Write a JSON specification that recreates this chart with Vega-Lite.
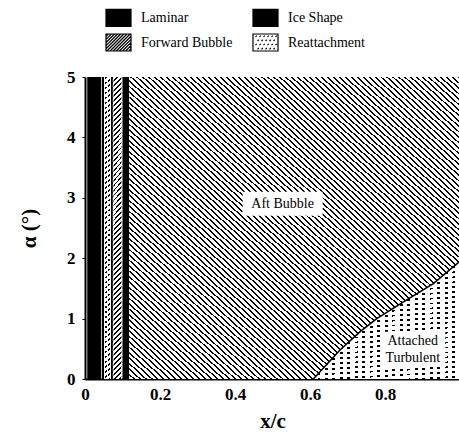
{
  "$schema": "https://vega.github.io/schema/vega-lite/v6.json",
  "width": 375,
  "height": 302,
  "autosize": {"type": "none"},
  "padding": {"left": 85, "top": 77, "right": 0, "bottom": 53},
  "background": "white",
  "datasets": {
    "strips": [
      {"region": "Laminar", "x0": 0.006, "x1": 0.043},
      {"region": "Reattachment", "x0": 0.045, "x1": 0.074},
      {"region": "Forward Bubble", "x0": 0.076, "x1": 0.097},
      {"region": "Ice Shape", "x0": 0.1, "x1": 0.118},
      {"region": "Attached Turbulent", "x0": 0.6, "x1": 1.0}
    ],
    "boundary": [
      {"x": 0.118, "y": 0},
      {"x": 0.609, "y": 0},
      {"x": 0.68, "y": 0.48},
      {"x": 0.733, "y": 0.78},
      {"x": 0.778, "y": 1.0},
      {"x": 0.858, "y": 1.31},
      {"x": 0.929, "y": 1.58},
      {"x": 1.0, "y": 1.95}
    ],
    "labels": [
      {"label": "Aft Bubble", "x": 0.527, "y": 2.9},
      {"label": "Attached\nTurbulent", "x": 0.874, "y": 0.49}
    ]
  },
  "layer": [
    {
      "data": {"name": "strips"},
      "transform": [{"filter": "datum.region === 'Laminar' || datum.region === 'Ice Shape'"}],
      "mark": {"type": "rect", "color": "#000"},
      "encoding": {
        "x": {
          "field": "x0", "type": "quantitative",
          "scale": {"domain": [0, 1], "nice": false, "zero": false},
          "axis": {
            "title": "x/c",
            "values": [0, 0.2, 0.4, 0.6, 0.8],
            "labelExpr": "datum.value == 0 ? '0' : format(datum.value, '.1f')",
            "ticks": false,
            "labelPadding": 7,
            "titlePadding": 8
          }
        },
        "x2": {"field": "x1"},
        "y": {
          "datum": 0, "type": "quantitative",
          "scale": {"domain": [0, 5], "nice": false},
          "axis": {
            "title": "α (°)",
            "values": [0, 1, 2, 3, 4, 5],
            "format": "d",
            "tickSize": 3,
            "labelPadding": 7,
            "titlePadding": 27
          }
        },
        "y2": {"datum": 5}
      }
    },
    {
      "data": {"name": "strips"},
      "transform": [{"filter": "datum.region === 'Reattachment' || datum.region === 'Forward Bubble' || datum.region === 'Attached Turbulent'"}],
      "mark": {
        "type": "rect",
        "color": {
          "gradient": "linear", "x1": 0, "y1": 0, "x2": 0.028, "y2": 1.03,
          "stops": [
            {"offset": 0, "color": "#fff"}, {"offset": 0.01, "color": "#fff"}, {"offset": 0.01, "color": "#000"}, {"offset": 0.016, "color": "#000"},
            {"offset": 0.016, "color": "#fff"}, {"offset": 0.026, "color": "#fff"}, {"offset": 0.026, "color": "#000"}, {"offset": 0.032, "color": "#000"},
            {"offset": 0.032, "color": "#fff"}, {"offset": 0.042, "color": "#fff"}, {"offset": 0.042, "color": "#000"}, {"offset": 0.048, "color": "#000"},
            {"offset": 0.048, "color": "#fff"}, {"offset": 0.058, "color": "#fff"}, {"offset": 0.058, "color": "#000"}, {"offset": 0.064, "color": "#000"},
            {"offset": 0.064, "color": "#fff"}, {"offset": 0.074, "color": "#fff"}, {"offset": 0.074, "color": "#000"}, {"offset": 0.08, "color": "#000"},
            {"offset": 0.08, "color": "#fff"}, {"offset": 0.09, "color": "#fff"}, {"offset": 0.09, "color": "#000"}, {"offset": 0.096, "color": "#000"},
            {"offset": 0.096, "color": "#fff"}, {"offset": 0.106, "color": "#fff"}, {"offset": 0.106, "color": "#000"}, {"offset": 0.112, "color": "#000"},
            {"offset": 0.112, "color": "#fff"}, {"offset": 0.122, "color": "#fff"}, {"offset": 0.122, "color": "#000"}, {"offset": 0.128, "color": "#000"},
            {"offset": 0.128, "color": "#fff"}, {"offset": 0.138, "color": "#fff"}, {"offset": 0.138, "color": "#000"}, {"offset": 0.144, "color": "#000"},
            {"offset": 0.144, "color": "#fff"}, {"offset": 0.154, "color": "#fff"}, {"offset": 0.154, "color": "#000"}, {"offset": 0.16, "color": "#000"},
            {"offset": 0.16, "color": "#fff"}, {"offset": 0.17, "color": "#fff"}, {"offset": 0.17, "color": "#000"}, {"offset": 0.176, "color": "#000"},
            {"offset": 0.176, "color": "#fff"}, {"offset": 0.186, "color": "#fff"}, {"offset": 0.186, "color": "#000"}, {"offset": 0.192, "color": "#000"},
            {"offset": 0.192, "color": "#fff"}, {"offset": 0.202, "color": "#fff"}, {"offset": 0.202, "color": "#000"}, {"offset": 0.208, "color": "#000"},
            {"offset": 0.208, "color": "#fff"}, {"offset": 0.218, "color": "#fff"}, {"offset": 0.218, "color": "#000"}, {"offset": 0.224, "color": "#000"},
            {"offset": 0.224, "color": "#fff"}, {"offset": 0.234, "color": "#fff"}, {"offset": 0.234, "color": "#000"}, {"offset": 0.24, "color": "#000"},
            {"offset": 0.24, "color": "#fff"}, {"offset": 0.25, "color": "#fff"}, {"offset": 0.25, "color": "#000"}, {"offset": 0.256, "color": "#000"},
            {"offset": 0.256, "color": "#fff"}, {"offset": 0.266, "color": "#fff"}, {"offset": 0.266, "color": "#000"}, {"offset": 0.272, "color": "#000"},
            {"offset": 0.272, "color": "#fff"}, {"offset": 0.282, "color": "#fff"}, {"offset": 0.282, "color": "#000"}, {"offset": 0.288, "color": "#000"},
            {"offset": 0.288, "color": "#fff"}, {"offset": 0.298, "color": "#fff"}, {"offset": 0.298, "color": "#000"}, {"offset": 0.304, "color": "#000"},
            {"offset": 0.304, "color": "#fff"}, {"offset": 0.314, "color": "#fff"}, {"offset": 0.314, "color": "#000"}, {"offset": 0.32, "color": "#000"},
            {"offset": 0.32, "color": "#fff"}, {"offset": 0.33, "color": "#fff"}, {"offset": 0.33, "color": "#000"}, {"offset": 0.336, "color": "#000"},
            {"offset": 0.336, "color": "#fff"}, {"offset": 0.346, "color": "#fff"}, {"offset": 0.346, "color": "#000"}, {"offset": 0.352, "color": "#000"},
            {"offset": 0.352, "color": "#fff"}, {"offset": 0.362, "color": "#fff"}, {"offset": 0.362, "color": "#000"}, {"offset": 0.368, "color": "#000"},
            {"offset": 0.368, "color": "#fff"}, {"offset": 0.378, "color": "#fff"}, {"offset": 0.378, "color": "#000"}, {"offset": 0.384, "color": "#000"},
            {"offset": 0.384, "color": "#fff"}, {"offset": 0.394, "color": "#fff"}, {"offset": 0.394, "color": "#000"}, {"offset": 0.4, "color": "#000"},
            {"offset": 0.4, "color": "#fff"}, {"offset": 0.41, "color": "#fff"}, {"offset": 0.41, "color": "#000"}, {"offset": 0.416, "color": "#000"},
            {"offset": 0.416, "color": "#fff"}, {"offset": 0.426, "color": "#fff"}, {"offset": 0.426, "color": "#000"}, {"offset": 0.432, "color": "#000"},
            {"offset": 0.432, "color": "#fff"}, {"offset": 0.442, "color": "#fff"}, {"offset": 0.442, "color": "#000"}, {"offset": 0.448, "color": "#000"},
            {"offset": 0.448, "color": "#fff"}, {"offset": 0.458, "color": "#fff"}, {"offset": 0.458, "color": "#000"}, {"offset": 0.464, "color": "#000"},
            {"offset": 0.464, "color": "#fff"}, {"offset": 0.474, "color": "#fff"}, {"offset": 0.474, "color": "#000"}, {"offset": 0.48, "color": "#000"},
            {"offset": 0.48, "color": "#fff"}, {"offset": 0.49, "color": "#fff"}, {"offset": 0.49, "color": "#000"}, {"offset": 0.496, "color": "#000"},
            {"offset": 0.496, "color": "#fff"}, {"offset": 0.506, "color": "#fff"}, {"offset": 0.506, "color": "#000"}, {"offset": 0.512, "color": "#000"},
            {"offset": 0.512, "color": "#fff"}, {"offset": 0.522, "color": "#fff"}, {"offset": 0.522, "color": "#000"}, {"offset": 0.528, "color": "#000"},
            {"offset": 0.528, "color": "#fff"}, {"offset": 0.538, "color": "#fff"}, {"offset": 0.538, "color": "#000"}, {"offset": 0.544, "color": "#000"},
            {"offset": 0.544, "color": "#fff"}, {"offset": 0.554, "color": "#fff"}, {"offset": 0.554, "color": "#000"}, {"offset": 0.56, "color": "#000"},
            {"offset": 0.56, "color": "#fff"}, {"offset": 0.57, "color": "#fff"}, {"offset": 0.57, "color": "#000"}, {"offset": 0.576, "color": "#000"},
            {"offset": 0.576, "color": "#fff"}, {"offset": 0.586, "color": "#fff"}, {"offset": 0.586, "color": "#000"}, {"offset": 0.592, "color": "#000"},
            {"offset": 0.592, "color": "#fff"}, {"offset": 0.602, "color": "#fff"}, {"offset": 0.602, "color": "#000"}, {"offset": 0.608, "color": "#000"},
            {"offset": 0.608, "color": "#fff"}, {"offset": 0.618, "color": "#fff"}, {"offset": 0.618, "color": "#000"}, {"offset": 0.624, "color": "#000"},
            {"offset": 0.624, "color": "#fff"}, {"offset": 0.634, "color": "#fff"}, {"offset": 0.634, "color": "#000"}, {"offset": 0.64, "color": "#000"},
            {"offset": 0.64, "color": "#fff"}, {"offset": 0.65, "color": "#fff"}, {"offset": 0.65, "color": "#000"}, {"offset": 0.656, "color": "#000"},
            {"offset": 0.656, "color": "#fff"}, {"offset": 0.666, "color": "#fff"}, {"offset": 0.666, "color": "#000"}, {"offset": 0.672, "color": "#000"},
            {"offset": 0.672, "color": "#fff"}, {"offset": 0.682, "color": "#fff"}, {"offset": 0.682, "color": "#000"}, {"offset": 0.688, "color": "#000"},
            {"offset": 0.688, "color": "#fff"}, {"offset": 0.698, "color": "#fff"}, {"offset": 0.698, "color": "#000"}, {"offset": 0.704, "color": "#000"},
            {"offset": 0.704, "color": "#fff"}, {"offset": 0.714, "color": "#fff"}, {"offset": 0.714, "color": "#000"}, {"offset": 0.72, "color": "#000"},
            {"offset": 0.72, "color": "#fff"}, {"offset": 0.73, "color": "#fff"}, {"offset": 0.73, "color": "#000"}, {"offset": 0.736, "color": "#000"},
            {"offset": 0.736, "color": "#fff"}, {"offset": 0.746, "color": "#fff"}, {"offset": 0.746, "color": "#000"}, {"offset": 0.752, "color": "#000"},
            {"offset": 0.752, "color": "#fff"}, {"offset": 0.762, "color": "#fff"}, {"offset": 0.762, "color": "#000"}, {"offset": 0.768, "color": "#000"},
            {"offset": 0.768, "color": "#fff"}, {"offset": 0.778, "color": "#fff"}, {"offset": 0.778, "color": "#000"}, {"offset": 0.784, "color": "#000"},
            {"offset": 0.784, "color": "#fff"}, {"offset": 0.794, "color": "#fff"}, {"offset": 0.794, "color": "#000"}, {"offset": 0.8, "color": "#000"},
            {"offset": 0.8, "color": "#fff"}, {"offset": 0.81, "color": "#fff"}, {"offset": 0.81, "color": "#000"}, {"offset": 0.816, "color": "#000"},
            {"offset": 0.816, "color": "#fff"}, {"offset": 0.826, "color": "#fff"}, {"offset": 0.826, "color": "#000"}, {"offset": 0.832, "color": "#000"},
            {"offset": 0.832, "color": "#fff"}, {"offset": 0.842, "color": "#fff"}, {"offset": 0.842, "color": "#000"}, {"offset": 0.848, "color": "#000"},
            {"offset": 0.848, "color": "#fff"}, {"offset": 0.858, "color": "#fff"}, {"offset": 0.858, "color": "#000"}, {"offset": 0.864, "color": "#000"},
            {"offset": 0.864, "color": "#fff"}, {"offset": 0.874, "color": "#fff"}, {"offset": 0.874, "color": "#000"}, {"offset": 0.88, "color": "#000"},
            {"offset": 0.88, "color": "#fff"}, {"offset": 0.89, "color": "#fff"}, {"offset": 0.89, "color": "#000"}, {"offset": 0.896, "color": "#000"},
            {"offset": 0.896, "color": "#fff"}, {"offset": 0.906, "color": "#fff"}, {"offset": 0.906, "color": "#000"}, {"offset": 0.912, "color": "#000"},
            {"offset": 0.912, "color": "#fff"}, {"offset": 0.922, "color": "#fff"}, {"offset": 0.922, "color": "#000"}, {"offset": 0.928, "color": "#000"},
            {"offset": 0.928, "color": "#fff"}, {"offset": 0.938, "color": "#fff"}, {"offset": 0.938, "color": "#000"}, {"offset": 0.944, "color": "#000"},
            {"offset": 0.944, "color": "#fff"}, {"offset": 0.954, "color": "#fff"}, {"offset": 0.954, "color": "#000"}, {"offset": 0.96, "color": "#000"},
            {"offset": 0.96, "color": "#fff"}, {"offset": 0.97, "color": "#fff"}, {"offset": 0.97, "color": "#000"}, {"offset": 0.976, "color": "#000"},
            {"offset": 0.976, "color": "#fff"}, {"offset": 0.986, "color": "#fff"}, {"offset": 0.986, "color": "#000"}, {"offset": 0.992, "color": "#000"},
            {"offset": 0.992, "color": "#fff"}, {"offset": 1, "color": "#fff"}
          ]
        }
      },
      "encoding": {
        "x": {"field": "x0", "type": "quantitative"},
        "x2": {"field": "x1"},
        "y": {"datum": 0, "type": "quantitative"},
        "y2": {"datum": 5}
      }
    },
    {
      "data": {"name": "strips"},
      "transform": [{"filter": "datum.region === 'Reattachment'"}],
      "mark": {
        "type": "rect",
        "color": {
          "gradient": "linear", "x1": 0, "y1": 0, "x2": 1, "y2": 0,
          "stops": [
            {"offset": 0, "color": "#000"}, {"offset": 0.15, "color": "#000"},
            {"offset": 0.15, "color": "#fff"}, {"offset": 0.3, "color": "#fff"},
            {"offset": 0.3, "color": "rgba(255,255,255,0)"}, {"offset": 0.45, "color": "rgba(255,255,255,0)"},
            {"offset": 0.45, "color": "#fff"}, {"offset": 0.6, "color": "#fff"},
            {"offset": 0.6, "color": "rgba(255,255,255,0)"}, {"offset": 0.74, "color": "rgba(255,255,255,0)"},
            {"offset": 0.74, "color": "#fff"}, {"offset": 0.85, "color": "#fff"},
            {"offset": 0.85, "color": "#000"}, {"offset": 1, "color": "#000"}
          ]
        }
      },
      "encoding": {
        "x": {"field": "x0", "type": "quantitative"},
        "x2": {"field": "x1"},
        "y": {"datum": 0, "type": "quantitative"},
        "y2": {"datum": 5}
      }
    },
    {
      "data": {"name": "strips"},
      "transform": [{"filter": "datum.region === 'Attached Turbulent'"}],
      "mark": {
        "type": "rect",
        "color": {
          "gradient": "linear", "x1": 0, "y1": 0, "x2": 1, "y2": 0,
          "stops": [
            {"offset": 0, "color": "rgba(255,255,255,0)"}, {"offset": 0.017, "color": "rgba(255,255,255,0)"}, {"offset": 0.017, "color": "#fff"}, {"offset": 0.05, "color": "#fff"},
            {"offset": 0.05, "color": "rgba(255,255,255,0)"}, {"offset": 0.067, "color": "rgba(255,255,255,0)"}, {"offset": 0.067, "color": "#fff"}, {"offset": 0.1, "color": "#fff"},
            {"offset": 0.1, "color": "rgba(255,255,255,0)"}, {"offset": 0.117, "color": "rgba(255,255,255,0)"}, {"offset": 0.117, "color": "#fff"}, {"offset": 0.15, "color": "#fff"},
            {"offset": 0.15, "color": "rgba(255,255,255,0)"}, {"offset": 0.167, "color": "rgba(255,255,255,0)"}, {"offset": 0.167, "color": "#fff"}, {"offset": 0.2, "color": "#fff"},
            {"offset": 0.2, "color": "rgba(255,255,255,0)"}, {"offset": 0.217, "color": "rgba(255,255,255,0)"}, {"offset": 0.217, "color": "#fff"}, {"offset": 0.25, "color": "#fff"},
            {"offset": 0.25, "color": "rgba(255,255,255,0)"}, {"offset": 0.267, "color": "rgba(255,255,255,0)"}, {"offset": 0.267, "color": "#fff"}, {"offset": 0.3, "color": "#fff"},
            {"offset": 0.3, "color": "rgba(255,255,255,0)"}, {"offset": 0.317, "color": "rgba(255,255,255,0)"}, {"offset": 0.317, "color": "#fff"}, {"offset": 0.35, "color": "#fff"},
            {"offset": 0.35, "color": "rgba(255,255,255,0)"}, {"offset": 0.367, "color": "rgba(255,255,255,0)"}, {"offset": 0.367, "color": "#fff"}, {"offset": 0.4, "color": "#fff"},
            {"offset": 0.4, "color": "rgba(255,255,255,0)"}, {"offset": 0.417, "color": "rgba(255,255,255,0)"}, {"offset": 0.417, "color": "#fff"}, {"offset": 0.45, "color": "#fff"},
            {"offset": 0.45, "color": "rgba(255,255,255,0)"}, {"offset": 0.467, "color": "rgba(255,255,255,0)"}, {"offset": 0.467, "color": "#fff"}, {"offset": 0.5, "color": "#fff"},
            {"offset": 0.5, "color": "rgba(255,255,255,0)"}, {"offset": 0.517, "color": "rgba(255,255,255,0)"}, {"offset": 0.517, "color": "#fff"}, {"offset": 0.55, "color": "#fff"},
            {"offset": 0.55, "color": "rgba(255,255,255,0)"}, {"offset": 0.567, "color": "rgba(255,255,255,0)"}, {"offset": 0.567, "color": "#fff"}, {"offset": 0.6, "color": "#fff"},
            {"offset": 0.6, "color": "rgba(255,255,255,0)"}, {"offset": 0.617, "color": "rgba(255,255,255,0)"}, {"offset": 0.617, "color": "#fff"}, {"offset": 0.65, "color": "#fff"},
            {"offset": 0.65, "color": "rgba(255,255,255,0)"}, {"offset": 0.667, "color": "rgba(255,255,255,0)"}, {"offset": 0.667, "color": "#fff"}, {"offset": 0.7, "color": "#fff"},
            {"offset": 0.7, "color": "rgba(255,255,255,0)"}, {"offset": 0.717, "color": "rgba(255,255,255,0)"}, {"offset": 0.717, "color": "#fff"}, {"offset": 0.75, "color": "#fff"},
            {"offset": 0.75, "color": "rgba(255,255,255,0)"}, {"offset": 0.767, "color": "rgba(255,255,255,0)"}, {"offset": 0.767, "color": "#fff"}, {"offset": 0.8, "color": "#fff"},
            {"offset": 0.8, "color": "rgba(255,255,255,0)"}, {"offset": 0.817, "color": "rgba(255,255,255,0)"}, {"offset": 0.817, "color": "#fff"}, {"offset": 0.85, "color": "#fff"},
            {"offset": 0.85, "color": "rgba(255,255,255,0)"}, {"offset": 0.867, "color": "rgba(255,255,255,0)"}, {"offset": 0.867, "color": "#fff"}, {"offset": 0.9, "color": "#fff"},
            {"offset": 0.9, "color": "rgba(255,255,255,0)"}, {"offset": 0.917, "color": "rgba(255,255,255,0)"}, {"offset": 0.917, "color": "#fff"}, {"offset": 0.95, "color": "#fff"},
            {"offset": 0.95, "color": "rgba(255,255,255,0)"}, {"offset": 0.967, "color": "rgba(255,255,255,0)"}, {"offset": 0.967, "color": "#fff"}, {"offset": 1, "color": "#fff"}
          ]
        }
      },
      "encoding": {
        "x": {"field": "x0", "type": "quantitative"},
        "x2": {"field": "x1"},
        "y": {"datum": 0, "type": "quantitative"},
        "y2": {"datum": 5}
      }
    },
    {
      "data": {"name": "boundary"},
      "mark": {
        "type": "area",
        "interpolate": "linear",
        "color": {
          "gradient": "linear", "x1": 0, "y1": 1, "x2": 1, "y2": 0,
          "stops": [
            {"offset": 0, "color": "#fff"}, {"offset": 0.006, "color": "#fff"}, {"offset": 0.006, "color": "#000"}, {"offset": 0.009, "color": "#000"},
            {"offset": 0.009, "color": "#fff"}, {"offset": 0.015, "color": "#fff"}, {"offset": 0.015, "color": "#000"}, {"offset": 0.018, "color": "#000"},
            {"offset": 0.018, "color": "#fff"}, {"offset": 0.024, "color": "#fff"}, {"offset": 0.024, "color": "#000"}, {"offset": 0.027, "color": "#000"},
            {"offset": 0.027, "color": "#fff"}, {"offset": 0.033, "color": "#fff"}, {"offset": 0.033, "color": "#000"}, {"offset": 0.036, "color": "#000"},
            {"offset": 0.036, "color": "#fff"}, {"offset": 0.042, "color": "#fff"}, {"offset": 0.042, "color": "#000"}, {"offset": 0.045, "color": "#000"},
            {"offset": 0.045, "color": "#fff"}, {"offset": 0.051, "color": "#fff"}, {"offset": 0.051, "color": "#000"}, {"offset": 0.054, "color": "#000"},
            {"offset": 0.054, "color": "#fff"}, {"offset": 0.06, "color": "#fff"}, {"offset": 0.06, "color": "#000"}, {"offset": 0.063, "color": "#000"},
            {"offset": 0.063, "color": "#fff"}, {"offset": 0.069, "color": "#fff"}, {"offset": 0.069, "color": "#000"}, {"offset": 0.072, "color": "#000"},
            {"offset": 0.072, "color": "#fff"}, {"offset": 0.078, "color": "#fff"}, {"offset": 0.078, "color": "#000"}, {"offset": 0.081, "color": "#000"},
            {"offset": 0.081, "color": "#fff"}, {"offset": 0.087, "color": "#fff"}, {"offset": 0.087, "color": "#000"}, {"offset": 0.09, "color": "#000"},
            {"offset": 0.09, "color": "#fff"}, {"offset": 0.096, "color": "#fff"}, {"offset": 0.096, "color": "#000"}, {"offset": 0.099, "color": "#000"},
            {"offset": 0.099, "color": "#fff"}, {"offset": 0.105, "color": "#fff"}, {"offset": 0.105, "color": "#000"}, {"offset": 0.108, "color": "#000"},
            {"offset": 0.108, "color": "#fff"}, {"offset": 0.114, "color": "#fff"}, {"offset": 0.114, "color": "#000"}, {"offset": 0.117, "color": "#000"},
            {"offset": 0.117, "color": "#fff"}, {"offset": 0.123, "color": "#fff"}, {"offset": 0.123, "color": "#000"}, {"offset": 0.126, "color": "#000"},
            {"offset": 0.126, "color": "#fff"}, {"offset": 0.132, "color": "#fff"}, {"offset": 0.132, "color": "#000"}, {"offset": 0.135, "color": "#000"},
            {"offset": 0.135, "color": "#fff"}, {"offset": 0.141, "color": "#fff"}, {"offset": 0.141, "color": "#000"}, {"offset": 0.144, "color": "#000"},
            {"offset": 0.144, "color": "#fff"}, {"offset": 0.15, "color": "#fff"}, {"offset": 0.15, "color": "#000"}, {"offset": 0.153, "color": "#000"},
            {"offset": 0.153, "color": "#fff"}, {"offset": 0.159, "color": "#fff"}, {"offset": 0.159, "color": "#000"}, {"offset": 0.162, "color": "#000"},
            {"offset": 0.162, "color": "#fff"}, {"offset": 0.168, "color": "#fff"}, {"offset": 0.168, "color": "#000"}, {"offset": 0.171, "color": "#000"},
            {"offset": 0.171, "color": "#fff"}, {"offset": 0.177, "color": "#fff"}, {"offset": 0.177, "color": "#000"}, {"offset": 0.18, "color": "#000"},
            {"offset": 0.18, "color": "#fff"}, {"offset": 0.186, "color": "#fff"}, {"offset": 0.186, "color": "#000"}, {"offset": 0.189, "color": "#000"},
            {"offset": 0.189, "color": "#fff"}, {"offset": 0.195, "color": "#fff"}, {"offset": 0.195, "color": "#000"}, {"offset": 0.198, "color": "#000"},
            {"offset": 0.198, "color": "#fff"}, {"offset": 0.204, "color": "#fff"}, {"offset": 0.204, "color": "#000"}, {"offset": 0.207, "color": "#000"},
            {"offset": 0.207, "color": "#fff"}, {"offset": 0.213, "color": "#fff"}, {"offset": 0.213, "color": "#000"}, {"offset": 0.216, "color": "#000"},
            {"offset": 0.216, "color": "#fff"}, {"offset": 0.222, "color": "#fff"}, {"offset": 0.222, "color": "#000"}, {"offset": 0.225, "color": "#000"},
            {"offset": 0.225, "color": "#fff"}, {"offset": 0.231, "color": "#fff"}, {"offset": 0.231, "color": "#000"}, {"offset": 0.234, "color": "#000"},
            {"offset": 0.234, "color": "#fff"}, {"offset": 0.24, "color": "#fff"}, {"offset": 0.24, "color": "#000"}, {"offset": 0.243, "color": "#000"},
            {"offset": 0.243, "color": "#fff"}, {"offset": 0.249, "color": "#fff"}, {"offset": 0.249, "color": "#000"}, {"offset": 0.252, "color": "#000"},
            {"offset": 0.252, "color": "#fff"}, {"offset": 0.258, "color": "#fff"}, {"offset": 0.258, "color": "#000"}, {"offset": 0.261, "color": "#000"},
            {"offset": 0.261, "color": "#fff"}, {"offset": 0.267, "color": "#fff"}, {"offset": 0.267, "color": "#000"}, {"offset": 0.27, "color": "#000"},
            {"offset": 0.27, "color": "#fff"}, {"offset": 0.276, "color": "#fff"}, {"offset": 0.276, "color": "#000"}, {"offset": 0.279, "color": "#000"},
            {"offset": 0.279, "color": "#fff"}, {"offset": 0.285, "color": "#fff"}, {"offset": 0.285, "color": "#000"}, {"offset": 0.288, "color": "#000"},
            {"offset": 0.288, "color": "#fff"}, {"offset": 0.294, "color": "#fff"}, {"offset": 0.294, "color": "#000"}, {"offset": 0.297, "color": "#000"},
            {"offset": 0.297, "color": "#fff"}, {"offset": 0.303, "color": "#fff"}, {"offset": 0.303, "color": "#000"}, {"offset": 0.306, "color": "#000"},
            {"offset": 0.306, "color": "#fff"}, {"offset": 0.312, "color": "#fff"}, {"offset": 0.312, "color": "#000"}, {"offset": 0.315, "color": "#000"},
            {"offset": 0.315, "color": "#fff"}, {"offset": 0.321, "color": "#fff"}, {"offset": 0.321, "color": "#000"}, {"offset": 0.324, "color": "#000"},
            {"offset": 0.324, "color": "#fff"}, {"offset": 0.33, "color": "#fff"}, {"offset": 0.33, "color": "#000"}, {"offset": 0.333, "color": "#000"},
            {"offset": 0.333, "color": "#fff"}, {"offset": 0.339, "color": "#fff"}, {"offset": 0.339, "color": "#000"}, {"offset": 0.342, "color": "#000"},
            {"offset": 0.342, "color": "#fff"}, {"offset": 0.348, "color": "#fff"}, {"offset": 0.348, "color": "#000"}, {"offset": 0.351, "color": "#000"},
            {"offset": 0.351, "color": "#fff"}, {"offset": 0.357, "color": "#fff"}, {"offset": 0.357, "color": "#000"}, {"offset": 0.36, "color": "#000"},
            {"offset": 0.36, "color": "#fff"}, {"offset": 0.366, "color": "#fff"}, {"offset": 0.366, "color": "#000"}, {"offset": 0.369, "color": "#000"},
            {"offset": 0.369, "color": "#fff"}, {"offset": 0.375, "color": "#fff"}, {"offset": 0.375, "color": "#000"}, {"offset": 0.378, "color": "#000"},
            {"offset": 0.378, "color": "#fff"}, {"offset": 0.384, "color": "#fff"}, {"offset": 0.384, "color": "#000"}, {"offset": 0.387, "color": "#000"},
            {"offset": 0.387, "color": "#fff"}, {"offset": 0.393, "color": "#fff"}, {"offset": 0.393, "color": "#000"}, {"offset": 0.396, "color": "#000"},
            {"offset": 0.396, "color": "#fff"}, {"offset": 0.402, "color": "#fff"}, {"offset": 0.402, "color": "#000"}, {"offset": 0.405, "color": "#000"},
            {"offset": 0.405, "color": "#fff"}, {"offset": 0.411, "color": "#fff"}, {"offset": 0.411, "color": "#000"}, {"offset": 0.414, "color": "#000"},
            {"offset": 0.414, "color": "#fff"}, {"offset": 0.42, "color": "#fff"}, {"offset": 0.42, "color": "#000"}, {"offset": 0.423, "color": "#000"},
            {"offset": 0.423, "color": "#fff"}, {"offset": 0.429, "color": "#fff"}, {"offset": 0.429, "color": "#000"}, {"offset": 0.432, "color": "#000"},
            {"offset": 0.432, "color": "#fff"}, {"offset": 0.438, "color": "#fff"}, {"offset": 0.438, "color": "#000"}, {"offset": 0.441, "color": "#000"},
            {"offset": 0.441, "color": "#fff"}, {"offset": 0.447, "color": "#fff"}, {"offset": 0.447, "color": "#000"}, {"offset": 0.45, "color": "#000"},
            {"offset": 0.45, "color": "#fff"}, {"offset": 0.456, "color": "#fff"}, {"offset": 0.456, "color": "#000"}, {"offset": 0.459, "color": "#000"},
            {"offset": 0.459, "color": "#fff"}, {"offset": 0.465, "color": "#fff"}, {"offset": 0.465, "color": "#000"}, {"offset": 0.468, "color": "#000"},
            {"offset": 0.468, "color": "#fff"}, {"offset": 0.474, "color": "#fff"}, {"offset": 0.474, "color": "#000"}, {"offset": 0.477, "color": "#000"},
            {"offset": 0.477, "color": "#fff"}, {"offset": 0.483, "color": "#fff"}, {"offset": 0.483, "color": "#000"}, {"offset": 0.486, "color": "#000"},
            {"offset": 0.486, "color": "#fff"}, {"offset": 0.492, "color": "#fff"}, {"offset": 0.492, "color": "#000"}, {"offset": 0.495, "color": "#000"},
            {"offset": 0.495, "color": "#fff"}, {"offset": 0.501, "color": "#fff"}, {"offset": 0.501, "color": "#000"}, {"offset": 0.504, "color": "#000"},
            {"offset": 0.504, "color": "#fff"}, {"offset": 0.51, "color": "#fff"}, {"offset": 0.51, "color": "#000"}, {"offset": 0.513, "color": "#000"},
            {"offset": 0.513, "color": "#fff"}, {"offset": 0.519, "color": "#fff"}, {"offset": 0.519, "color": "#000"}, {"offset": 0.522, "color": "#000"},
            {"offset": 0.522, "color": "#fff"}, {"offset": 0.528, "color": "#fff"}, {"offset": 0.528, "color": "#000"}, {"offset": 0.531, "color": "#000"},
            {"offset": 0.531, "color": "#fff"}, {"offset": 0.537, "color": "#fff"}, {"offset": 0.537, "color": "#000"}, {"offset": 0.54, "color": "#000"},
            {"offset": 0.54, "color": "#fff"}, {"offset": 0.546, "color": "#fff"}, {"offset": 0.546, "color": "#000"}, {"offset": 0.549, "color": "#000"},
            {"offset": 0.549, "color": "#fff"}, {"offset": 0.555, "color": "#fff"}, {"offset": 0.555, "color": "#000"}, {"offset": 0.558, "color": "#000"},
            {"offset": 0.558, "color": "#fff"}, {"offset": 0.564, "color": "#fff"}, {"offset": 0.564, "color": "#000"}, {"offset": 0.567, "color": "#000"},
            {"offset": 0.567, "color": "#fff"}, {"offset": 0.573, "color": "#fff"}, {"offset": 0.573, "color": "#000"}, {"offset": 0.576, "color": "#000"},
            {"offset": 0.576, "color": "#fff"}, {"offset": 0.582, "color": "#fff"}, {"offset": 0.582, "color": "#000"}, {"offset": 0.585, "color": "#000"},
            {"offset": 0.585, "color": "#fff"}, {"offset": 0.591, "color": "#fff"}, {"offset": 0.591, "color": "#000"}, {"offset": 0.594, "color": "#000"},
            {"offset": 0.594, "color": "#fff"}, {"offset": 0.6, "color": "#fff"}, {"offset": 0.6, "color": "#000"}, {"offset": 0.603, "color": "#000"},
            {"offset": 0.603, "color": "#fff"}, {"offset": 0.609, "color": "#fff"}, {"offset": 0.609, "color": "#000"}, {"offset": 0.612, "color": "#000"},
            {"offset": 0.612, "color": "#fff"}, {"offset": 0.618, "color": "#fff"}, {"offset": 0.618, "color": "#000"}, {"offset": 0.621, "color": "#000"},
            {"offset": 0.621, "color": "#fff"}, {"offset": 0.627, "color": "#fff"}, {"offset": 0.627, "color": "#000"}, {"offset": 0.63, "color": "#000"},
            {"offset": 0.63, "color": "#fff"}, {"offset": 0.636, "color": "#fff"}, {"offset": 0.636, "color": "#000"}, {"offset": 0.639, "color": "#000"},
            {"offset": 0.639, "color": "#fff"}, {"offset": 0.645, "color": "#fff"}, {"offset": 0.645, "color": "#000"}, {"offset": 0.648, "color": "#000"},
            {"offset": 0.648, "color": "#fff"}, {"offset": 0.654, "color": "#fff"}, {"offset": 0.654, "color": "#000"}, {"offset": 0.657, "color": "#000"},
            {"offset": 0.657, "color": "#fff"}, {"offset": 0.663, "color": "#fff"}, {"offset": 0.663, "color": "#000"}, {"offset": 0.666, "color": "#000"},
            {"offset": 0.666, "color": "#fff"}, {"offset": 0.672, "color": "#fff"}, {"offset": 0.672, "color": "#000"}, {"offset": 0.675, "color": "#000"},
            {"offset": 0.675, "color": "#fff"}, {"offset": 0.681, "color": "#fff"}, {"offset": 0.681, "color": "#000"}, {"offset": 0.684, "color": "#000"},
            {"offset": 0.684, "color": "#fff"}, {"offset": 0.69, "color": "#fff"}, {"offset": 0.69, "color": "#000"}, {"offset": 0.693, "color": "#000"},
            {"offset": 0.693, "color": "#fff"}, {"offset": 0.699, "color": "#fff"}, {"offset": 0.699, "color": "#000"}, {"offset": 0.702, "color": "#000"},
            {"offset": 0.702, "color": "#fff"}, {"offset": 0.708, "color": "#fff"}, {"offset": 0.708, "color": "#000"}, {"offset": 0.711, "color": "#000"},
            {"offset": 0.711, "color": "#fff"}, {"offset": 0.717, "color": "#fff"}, {"offset": 0.717, "color": "#000"}, {"offset": 0.72, "color": "#000"},
            {"offset": 0.72, "color": "#fff"}, {"offset": 0.726, "color": "#fff"}, {"offset": 0.726, "color": "#000"}, {"offset": 0.729, "color": "#000"},
            {"offset": 0.729, "color": "#fff"}, {"offset": 0.735, "color": "#fff"}, {"offset": 0.735, "color": "#000"}, {"offset": 0.738, "color": "#000"},
            {"offset": 0.738, "color": "#fff"}, {"offset": 0.744, "color": "#fff"}, {"offset": 0.744, "color": "#000"}, {"offset": 0.747, "color": "#000"},
            {"offset": 0.747, "color": "#fff"}, {"offset": 0.753, "color": "#fff"}, {"offset": 0.753, "color": "#000"}, {"offset": 0.756, "color": "#000"},
            {"offset": 0.756, "color": "#fff"}, {"offset": 0.762, "color": "#fff"}, {"offset": 0.762, "color": "#000"}, {"offset": 0.765, "color": "#000"},
            {"offset": 0.765, "color": "#fff"}, {"offset": 0.771, "color": "#fff"}, {"offset": 0.771, "color": "#000"}, {"offset": 0.774, "color": "#000"},
            {"offset": 0.774, "color": "#fff"}, {"offset": 0.78, "color": "#fff"}, {"offset": 0.78, "color": "#000"}, {"offset": 0.783, "color": "#000"},
            {"offset": 0.783, "color": "#fff"}, {"offset": 0.789, "color": "#fff"}, {"offset": 0.789, "color": "#000"}, {"offset": 0.792, "color": "#000"},
            {"offset": 0.792, "color": "#fff"}, {"offset": 0.798, "color": "#fff"}, {"offset": 0.798, "color": "#000"}, {"offset": 0.801, "color": "#000"},
            {"offset": 0.801, "color": "#fff"}, {"offset": 0.807, "color": "#fff"}, {"offset": 0.807, "color": "#000"}, {"offset": 0.81, "color": "#000"},
            {"offset": 0.81, "color": "#fff"}, {"offset": 0.816, "color": "#fff"}, {"offset": 0.816, "color": "#000"}, {"offset": 0.819, "color": "#000"},
            {"offset": 0.819, "color": "#fff"}, {"offset": 0.825, "color": "#fff"}, {"offset": 0.825, "color": "#000"}, {"offset": 0.828, "color": "#000"},
            {"offset": 0.828, "color": "#fff"}, {"offset": 0.834, "color": "#fff"}, {"offset": 0.834, "color": "#000"}, {"offset": 0.837, "color": "#000"},
            {"offset": 0.837, "color": "#fff"}, {"offset": 0.843, "color": "#fff"}, {"offset": 0.843, "color": "#000"}, {"offset": 0.846, "color": "#000"},
            {"offset": 0.846, "color": "#fff"}, {"offset": 0.852, "color": "#fff"}, {"offset": 0.852, "color": "#000"}, {"offset": 0.855, "color": "#000"},
            {"offset": 0.855, "color": "#fff"}, {"offset": 0.861, "color": "#fff"}, {"offset": 0.861, "color": "#000"}, {"offset": 0.864, "color": "#000"},
            {"offset": 0.864, "color": "#fff"}, {"offset": 0.87, "color": "#fff"}, {"offset": 0.87, "color": "#000"}, {"offset": 0.873, "color": "#000"},
            {"offset": 0.873, "color": "#fff"}, {"offset": 0.879, "color": "#fff"}, {"offset": 0.879, "color": "#000"}, {"offset": 0.882, "color": "#000"},
            {"offset": 0.882, "color": "#fff"}, {"offset": 0.888, "color": "#fff"}, {"offset": 0.888, "color": "#000"}, {"offset": 0.891, "color": "#000"},
            {"offset": 0.891, "color": "#fff"}, {"offset": 0.897, "color": "#fff"}, {"offset": 0.897, "color": "#000"}, {"offset": 0.9, "color": "#000"},
            {"offset": 0.9, "color": "#fff"}, {"offset": 0.906, "color": "#fff"}, {"offset": 0.906, "color": "#000"}, {"offset": 0.909, "color": "#000"},
            {"offset": 0.909, "color": "#fff"}, {"offset": 0.915, "color": "#fff"}, {"offset": 0.915, "color": "#000"}, {"offset": 0.918, "color": "#000"},
            {"offset": 0.918, "color": "#fff"}, {"offset": 0.924, "color": "#fff"}, {"offset": 0.924, "color": "#000"}, {"offset": 0.927, "color": "#000"},
            {"offset": 0.927, "color": "#fff"}, {"offset": 0.933, "color": "#fff"}, {"offset": 0.933, "color": "#000"}, {"offset": 0.936, "color": "#000"},
            {"offset": 0.936, "color": "#fff"}, {"offset": 0.942, "color": "#fff"}, {"offset": 0.942, "color": "#000"}, {"offset": 0.945, "color": "#000"},
            {"offset": 0.945, "color": "#fff"}, {"offset": 0.951, "color": "#fff"}, {"offset": 0.951, "color": "#000"}, {"offset": 0.954, "color": "#000"},
            {"offset": 0.954, "color": "#fff"}, {"offset": 0.96, "color": "#fff"}, {"offset": 0.96, "color": "#000"}, {"offset": 0.963, "color": "#000"},
            {"offset": 0.963, "color": "#fff"}, {"offset": 0.969, "color": "#fff"}, {"offset": 0.969, "color": "#000"}, {"offset": 0.972, "color": "#000"},
            {"offset": 0.972, "color": "#fff"}, {"offset": 0.978, "color": "#fff"}, {"offset": 0.978, "color": "#000"}, {"offset": 0.981, "color": "#000"},
            {"offset": 0.981, "color": "#fff"}, {"offset": 0.987, "color": "#fff"}, {"offset": 0.987, "color": "#000"}, {"offset": 0.99, "color": "#000"},
            {"offset": 0.99, "color": "#fff"}, {"offset": 0.996, "color": "#fff"}, {"offset": 0.996, "color": "#000"}, {"offset": 0.999, "color": "#000"},
            {"offset": 0.999, "color": "#fff"}, {"offset": 1, "color": "#fff"}
          ]
        }
      },
      "encoding": {
        "x": {"field": "x", "type": "quantitative"},
        "y": {"field": "y", "type": "quantitative"},
        "y2": {"datum": 5}
      }
    },
    {
      "data": {"name": "boundary"},
      "transform": [{"filter": "datum.x >= 0.6"}],
      "mark": {"type": "line", "color": "#000", "strokeWidth": 1.6},
      "encoding": {
        "x": {"field": "x", "type": "quantitative"},
        "y": {"field": "y", "type": "quantitative"}
      }
    },
    {
      "mark": {"type": "rule", "color": "#000", "strokeWidth": 2},
      "encoding": {"y": {"datum": 5, "type": "quantitative"}}
    },
    {
      "data": {"name": "strips"},
      "transform": [{"filter": "datum.region !== 'Attached Turbulent'"}],
      "mark": {"type": "point", "filled": true, "opacity": 0},
      "encoding": {
        "x": {"field": "x0", "type": "quantitative"},
        "y": {"datum": 0, "type": "quantitative"},
        "fill": {
          "field": "region", "type": "nominal",
          "scale": {
            "domain": ["Laminar", "Forward Bubble", "Ice Shape", "Reattachment"],
            "range": ["#000", "#fff", "#000", "#fff"]
          },
          "legend": {
            "orient": "none", "legendX": 20, "legendY": -73, "columns": 2, "title": null,
            "padding": 0, "rowPadding": 0, "columnPadding": 17,
            "symbolSize": 625, "symbolStrokeWidth": 1.2, "symbolOpacity": 1,
            "labelFont": "Liberation Serif", "labelFontSize": 14, "labelColor": "#000", "labelOffset": 9
          }
        },
        "stroke": {
          "field": "region", "type": "nominal",
          "scale": {
            "domain": ["Laminar", "Forward Bubble", "Ice Shape", "Reattachment"],
            "range": ["#000", "#000", "#000", "#000"]
          },
          "legend": {
            "orient": "none", "legendX": 20, "legendY": -73, "columns": 2, "title": null,
            "padding": 0, "rowPadding": 0, "columnPadding": 17,
            "symbolSize": 625, "symbolStrokeWidth": 1.2, "symbolOpacity": 1,
            "labelFont": "Liberation Serif", "labelFontSize": 14, "labelColor": "#000", "labelOffset": 9
          }
        },
        "shape": {
          "field": "region", "type": "nominal",
          "scale": {
            "domain": ["Laminar", "Forward Bubble", "Ice Shape", "Reattachment"],
            "range": [
              "M-1,-0.68H1V0.68H-1Z",
              "M-1,-0.68H1V0.68H-1Z M-1,-0.5L-0.82,-0.68 M-1,-0.25L-0.57,-0.68 M-1,0L-0.32,-0.68 M-1,0.25L-0.07,-0.68 M-1,0.5L0.18,-0.68 M-0.93,0.68L0.43,-0.68 M-0.68,0.68L0.68,-0.68 M-0.43,0.68L0.93,-0.68 M-0.18,0.68L1,-0.5 M0.07,0.68L1,-0.25 M0.32,0.68L1,0 M0.57,0.68L1,0.25 M0.82,0.68L1,0.5",
              "M-1,-0.68H1V0.68H-1Z",
              "M-1,-0.68H1V0.68H-1Z M-0.8,-0.45l0.1,-0.1 M-0.48,-0.45l0.1,-0.1 M-0.16,-0.45l0.1,-0.1 M0.16,-0.45l0.1,-0.1 M0.48,-0.45l0.1,-0.1 M0.8,-0.45l0.1,-0.1 M-0.64,-0.12l0.1,-0.1 M-0.32,-0.12l0.1,-0.1 M0,-0.12l0.1,-0.1 M0.32,-0.12l0.1,-0.1 M0.64,-0.12l0.1,-0.1 M-0.8,0.21l0.1,-0.1 M-0.48,0.21l0.1,-0.1 M-0.16,0.21l0.1,-0.1 M0.16,0.21l0.1,-0.1 M0.48,0.21l0.1,-0.1 M0.8,0.21l0.1,-0.1 M-0.64,0.54l0.1,-0.1 M-0.32,0.54l0.1,-0.1 M0,0.54l0.1,-0.1 M0.32,0.54l0.1,-0.1 M0.64,0.54l0.1,-0.1"
            ]
          },
          "legend": {
            "orient": "none", "legendX": 20, "legendY": -73, "columns": 2, "title": null,
            "padding": 0, "rowPadding": 0, "columnPadding": 17,
            "symbolSize": 625, "symbolStrokeWidth": 1.2, "symbolOpacity": 1,
            "labelFont": "Liberation Serif", "labelFontSize": 14, "labelColor": "#000", "labelOffset": 9
          }
        }
      }
    },
    {
      "data": {"name": "labels"},
      "transform": [{"filter": "datum.label === 'Aft Bubble'"}],
      "mark": {"type": "point", "shape": "M-1,-0.3H1V0.3H-1Z", "size": 6400, "filled": true, "color": "#fff", "opacity": 1, "strokeWidth": 0},
      "encoding": {
        "x": {"field": "x", "type": "quantitative"},
        "y": {"field": "y", "type": "quantitative"}
      }
    },
    {
      "data": {"name": "labels"},
      "transform": [{"filter": "datum.label !== 'Aft Bubble'"}],
      "mark": {"type": "point", "shape": "M-1,-0.54H1V0.54H-1Z", "size": 4225, "filled": true, "color": "#fff", "opacity": 1, "strokeWidth": 0},
      "encoding": {
        "x": {"field": "x", "type": "quantitative"},
        "y": {"field": "y", "type": "quantitative"}
      }
    },
    {
      "data": {"name": "labels"},
      "transform": [{"filter": "datum.label === 'Aft Bubble'"}],
      "mark": {"type": "text", "font": "Liberation Serif", "fontSize": 14, "color": "#000", "align": "center", "baseline": "middle"},
      "encoding": {
        "x": {"field": "x", "type": "quantitative"},
        "y": {"field": "y", "type": "quantitative"},
        "text": {"field": "label"}
      }
    },
    {
      "data": {"name": "labels"},
      "transform": [{"filter": "datum.label !== 'Aft Bubble'"}],
      "mark": {"type": "text", "font": "Liberation Serif", "fontSize": 14, "color": "#000", "lineBreak": "\n", "lineHeight": 17, "align": "center", "baseline": "middle", "dy": -8},
      "encoding": {
        "x": {"field": "x", "type": "quantitative"},
        "y": {"field": "y", "type": "quantitative"},
        "text": {"field": "label"}
      }
    }
  ],
  "config": {
    "view": {"stroke": null},
    "font": "Liberation Serif",
    "axis": {
      "domainColor": "#000",
      "domainWidth": 2,
      "labelColor": "#000",
      "labelFont": "Liberation Serif",
      "labelFontSize": 17,
      "labelFontWeight": "bold",
      "titleColor": "#000",
      "titleFont": "Liberation Serif",
      "titleFontSize": 21,
      "titleFontWeight": "bold",
      "tickColor": "#000",
      "grid": false,
      "labelFlush": false,
      "labelOverlap": false,
      "zindex": 1
    }
  }
}
